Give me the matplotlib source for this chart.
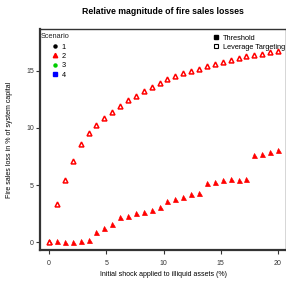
import numpy as np
import matplotlib
matplotlib.use("Agg")
import matplotlib.pyplot as plt
from matplotlib.lines import Line2D

plt.rcParams['font.family'] = ['Liberation Sans', 'DejaVu Sans']

# shock levels (%)
shock = np.linspace(0, 20, 30)

# scenario 2, threshold rule (filled)
threshold = [0.05, 0.05, 0.0, 0.0, 0.1, 0.2, 0.88, 1.2, 1.6, 2.17,
             2.28, 2.54, 2.66, 2.8, 3.1, 3.6, 3.77, 3.97, 4.2, 4.3,
             5.15, 5.26, 5.4, 5.5, 5.4, 5.55, 7.6, 7.75, 7.9, 8.07]

# scenario 2, leverage targeting (open)
lev_target = [0.0, 3.3, 5.47, 7.13, 8.6, 9.53, 10.23, 10.85, 11.43, 11.96,
              12.42, 12.83, 13.2, 13.6, 13.93, 14.27, 14.53, 14.8, 15.0, 15.2,
              15.4, 15.6, 15.77, 15.94, 16.1, 16.27, 16.4, 16.52, 16.64, 16.75]

scenarios = ["1", "2", "3", "4"]
scen_colors = ["black", "red", "#00cc00", "blue"]
scen_markers = ["o", "^", "o", "s"]
scen_sizes = [2.2, 3.2, 2.2, 3.4]

xticks = [0, 5, 10, 15, 20]
yticks = [0, 5, 10, 15]

fig = plt.figure(figsize=(2.86, 2.86), dpi=100)
ax = fig.add_axes([40 / 286, 1 - 250 / 286, 246 / 286, 221 / 286])

ax.plot(shock, threshold, linestyle="none", marker="^", color="red",
        markersize=3.6, markeredgewidth=0.5)
ax.plot(shock, lev_target, linestyle="none", marker="^", markerfacecolor="white",
        markeredgecolor="red", markersize=3.5, markeredgewidth=1.1)

ax.set_xlim(-0.79, 20.7)
ax.set_ylim(-0.7, 18.68)
ax.set_xticks(xticks)
ax.set_yticks(yticks)
ax.tick_params(labelsize=5, colors="#333333", length=3, width=0.8)
ax.tick_params(axis="x", pad=4)
ax.tick_params(axis="y", pad=1.5)
for s in ax.spines.values():
    s.set_color("#333333")
    s.set_linewidth(1.0)
ax.spines["left"].set_linewidth(1.6)
ax.spines["bottom"].set_linewidth(1.6)

ax.set_xlabel("Initial shock applied to illiquid assets (%)", fontsize=5, labelpad=3)
ax.set_ylabel("Fire sales loss in % of system capital", fontsize=5, labelpad=9)
fig.text(163 / 286, 1 - 11 / 286, "Relative magnitude of fire sales losses",
         ha="center", va="center", fontsize=6.3, fontweight="bold")

# scenario legend
ax.text(0.004, 0.968, "Scenario", transform=ax.transAxes, ha="left", va="center",
        fontsize=5.3, color="#222222")
handles = [Line2D([], [], linestyle="none", marker=m, color=c, markersize=sz)
           for m, c, sz in zip(scen_markers, scen_colors, scen_sizes)]
leg1 = ax.legend(handles, scenarios, loc="upper left",
                 bbox_to_anchor=(0.041, 0.935), frameon=False, fontsize=5.3,
                 handlelength=1.3, handletextpad=0.3, labelspacing=0.3,
                 borderpad=0, borderaxespad=0)
ax.add_artist(leg1)

# rule legend
rule_handles = [Line2D([], [], linestyle="none", marker="s", color="black", markersize=3),
                Line2D([], [], linestyle="none", marker="s", markerfacecolor="white",
                       markeredgecolor="black", markersize=3, markeredgewidth=0.8)]
ax.legend(rule_handles, ["Threshold", "Leverage Targeting"], loc="upper right",
          bbox_to_anchor=(0.996, 0.975), frameon=False, fontsize=5.3,
          handlelength=1.0, handletextpad=0.4, labelspacing=0.25,
          borderpad=0, borderaxespad=0)

fig.savefig("out.png", dpi=100)
